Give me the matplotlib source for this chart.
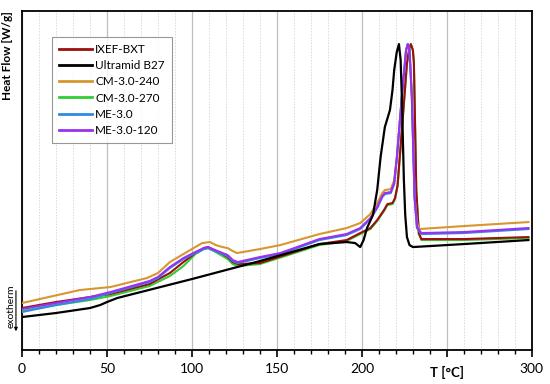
import matplotlib
matplotlib.use("Agg")
import matplotlib.pyplot as plt
from matplotlib.ticker import MultipleLocator
from matplotlib.lines import Line2D
from matplotlib.patches import FancyArrowPatch

# ---------------- data (heat flow, arbitrary units) ----------------
names = ["IXEF-BXT", "Ultramid B27", "CM-3.0-240", "CM-3.0-270", "ME-3.0", "ME-3.0-120"]
colors = ["#9C0F0F", "#000000", "#D8962E", "#33CC33", "#2E8BE0", "#9B30F0"]

t_black = [0, 20, 40, 46, 50, 56, 100, 140, 175, 191, 196, 199, 201, 203, 206.5, 209, 211, 213.5,
           216.5, 218, 219, 220.5, 221.8, 222.8, 223.5, 224.7, 225.5, 226.5, 228, 230, 260, 298]
hf_black = [0.33, 0.37, 0.42, 0.45, 0.48, 0.52, 0.71, 0.89, 1.06, 1.08, 1.07, 1.03, 1.10, 1.22, 1.35, 1.60, 1.93, 2.23,
            2.40, 2.60, 2.80, 2.98, 3.06, 2.90, 2.53, 1.70, 1.35, 1.13, 1.05, 1.03, 1.06, 1.10]

t_cm240 = [0, 34, 52, 73.5, 80, 87, 95, 102, 106, 110.6, 114, 118, 121, 124, 126.5, 140, 152, 175, 191,
           199, 205, 209, 212, 213.5, 217, 219, 220.6, 223.5, 226, 227, 228, 229.4, 231, 232.4, 233.5, 260, 298]
hf_cm240 = [0.47, 0.60, 0.63, 0.72, 0.77, 0.88, 0.96, 1.03, 1.07, 1.08, 1.05, 1.03, 1.02, 0.99, 0.97, 1.01, 1.05, 1.16, 1.22,
            1.27, 1.36, 1.47, 1.57, 1.60, 1.61, 1.70, 1.93, 2.53, 3.00, 3.06, 3.00, 2.53, 1.53, 1.28, 1.21, 1.24, 1.28]

t_me = [0, 20, 40, 52, 75, 80, 87, 95, 102, 107, 109.5, 112, 118, 121, 124, 127, 140, 152, 175, 191,
        199, 205, 209, 212, 213.5, 217, 219, 220.6, 223.5, 226, 227, 228, 229.4, 231, 232.4, 235, 260, 298]
hf_me120 = [0.41, 0.47, 0.53, 0.58, 0.69, 0.73, 0.83, 0.92, 0.98, 1.02, 1.03, 1.01, 0.97, 0.95, 0.90, 0.88, 0.93, 0.97, 1.11, 1.16,
            1.22, 1.32, 1.43, 1.54, 1.57, 1.58, 1.67, 1.93, 2.53, 3.00, 3.06, 3.00, 2.53, 1.53, 1.23, 1.17, 1.18, 1.22]
hf_me30 = [0.38, 0.45, 0.51, 0.57, 0.68, 0.72, 0.82, 0.91, 0.97, 1.01, 1.02, 1.00, 0.96, 0.94, 0.89, 0.87, 0.92, 0.96, 1.10, 1.15,
           1.21, 1.31, 1.42, 1.53, 1.56, 1.57, 1.66, 1.93, 2.53, 3.00, 3.06, 3.00, 2.53, 1.53, 1.22, 1.16, 1.17, 1.21]

t_ixef = [0, 20, 40, 52, 75, 87, 95, 102, 107, 109.5, 112, 118, 121, 124, 127, 140, 175, 191, 199, 205, 209,
          213, 215, 218, 219.5, 221, 223.5, 226.5, 228, 228.8, 230, 230.6, 232, 233.5, 235, 260, 298]
hf_ixef = [0.42, 0.48, 0.53, 0.56, 0.66, 0.77, 0.88, 0.97, 1.02, 1.03, 1.01, 0.96, 0.93, 0.88, 0.86, 0.87, 1.06, 1.10, 1.17, 1.22, 1.30,
           1.40, 1.46, 1.47, 1.52, 1.65, 2.20, 2.87, 3.03, 3.06, 3.00, 2.87, 1.60, 1.17, 1.11, 1.11, 1.13]
t_cm270 = t_ixef
hf_cm270 = [0.39, 0.45, 0.50, 0.54, 0.64, 0.74, 0.84, 0.96, 1.01, 1.02, 1.00, 0.94, 0.91, 0.86, 0.84, 0.86, 1.05, 1.09, 1.16, 1.21, 1.29,
            1.39, 1.45, 1.46, 1.51, 1.64, 2.19, 2.86, 3.02, 3.06, 3.00, 2.87, 1.60, 1.16, 1.10, 1.10, 1.12]

x_ticks = [0, 50, 100, 150, 200, 250, 300]
x_tick_labels = ["0", "50", "100", "150", "200", "", "300"]

# ---------------- figure ----------------
fig = plt.figure(figsize=(5.5, 3.84), dpi=100)
ax = fig.add_axes([0.04, 0.0885, 0.927, 0.8825])

ax.plot(t_cm270, hf_cm270, color=colors[3], lw=1.5, zorder=3)
ax.plot(t_ixef, hf_ixef, color=colors[0], lw=1.5, zorder=3)
ax.plot(t_cm240, hf_cm240, color=colors[2], lw=1.5, zorder=3)
ax.plot(t_me, hf_me30, color=colors[4], lw=1.5, zorder=3)
ax.plot(t_me, hf_me120, color=colors[5], lw=1.5, zorder=3)
ax.plot(t_black, hf_black, color=colors[1], lw=1.6, zorder=4)

ax.set_xlim(0, 300)
ax.set_ylim(0, 3.39)
ax.set_yticks([])
ax.set_xticks(x_ticks)
ax.set_xticklabels(x_tick_labels, fontfamily="Lato", fontsize=10)
ax.xaxis.set_minor_locator(MultipleLocator(10))
ax.tick_params(axis="x", which="major", direction="out", length=5, width=1.2, pad=4)
ax.tick_params(axis="x", which="minor", direction="out", length=3, width=1.0)
ax.grid(axis="x", which="major", color="#BFBFBF", lw=0.9, zorder=0)
ax.grid(axis="x", which="minor", color="#D9D9D9", lw=0.7, ls=(0, (1.5, 1.5)), zorder=0)
for s in ax.spines.values():
    s.set_linewidth(1.3)
    s.set_color("black")

# labels
fig.text(250 / 300 * 0.927 + 0.04, 0.031, "T [°C]", ha="center", va="center",
         fontfamily="Lato", fontweight="bold", fontsize=9.5)
fig.text(0.014, 0.971, "Heat Flow [W/g]", rotation=90, ha="center", va="top",
         fontfamily="Lato", fontweight="bold", fontsize=8.5)
fig.text(0.021, 0.203, "exotherm", rotation=90, ha="center", va="center",
         fontfamily="Lato", fontsize=7.5)
fig.add_artist(FancyArrowPatch((0.029, 0.25), (0.029, 0.13),
               transform=fig.transFigure, arrowstyle="-|>", mutation_scale=5, lw=0.8, color="black"))

handles = [Line2D([], [], color=c, lw=2.0) for c in colors]
leg = ax.legend(handles, names, loc="upper left", bbox_to_anchor=(0.058, 0.925),
                prop={"family": "Lato", "size": 8.5}, frameon=True, fancybox=False,
                edgecolor="#7F7F7F", handlelength=2.8, handletextpad=0.3,
                labelspacing=0.45, borderpad=0.6, borderaxespad=0)
leg.get_frame().set_linewidth(0.8)

fig.savefig("out.png", dpi=100)
